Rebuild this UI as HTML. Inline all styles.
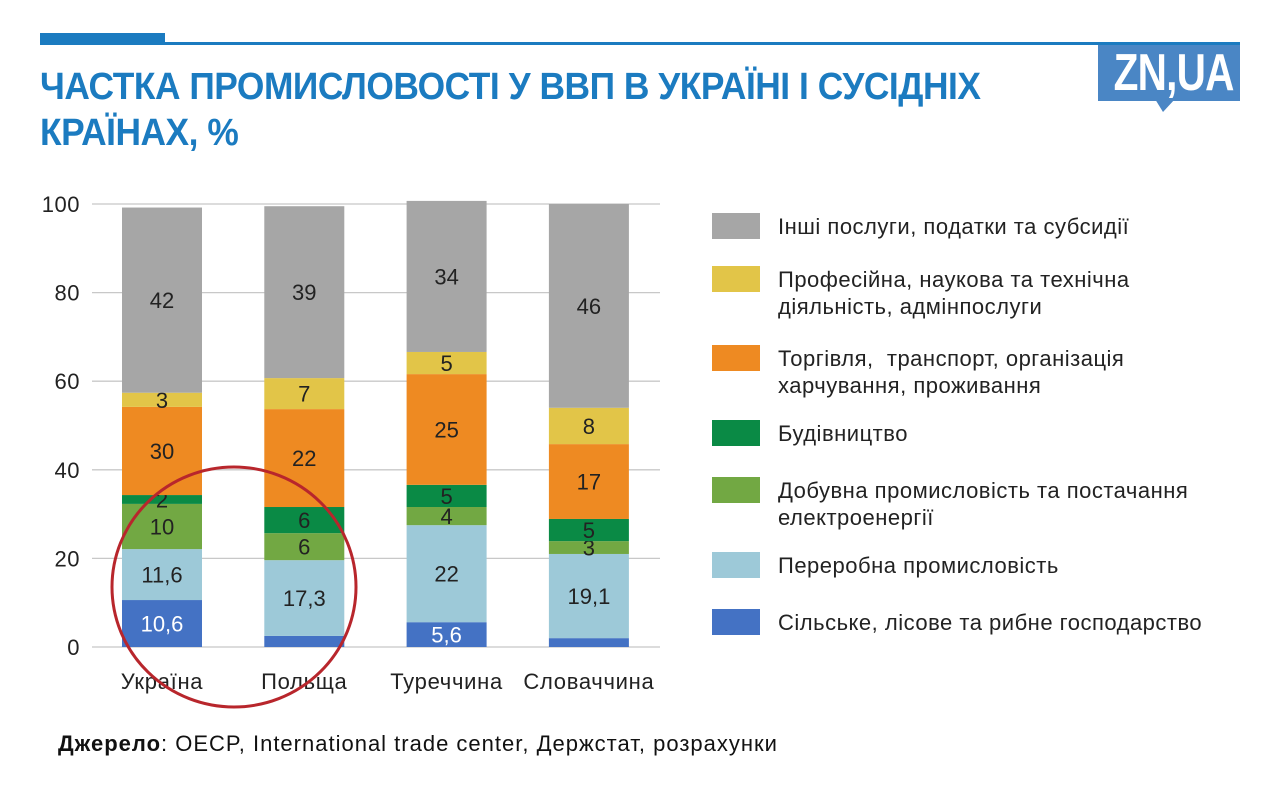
<!DOCTYPE html>
<html><head><meta charset="utf-8"><style>
body{margin:0;width:1280px;height:794px;background:#fff;font-family:"Liberation Sans",sans-serif;position:relative;overflow:hidden}
.abs{position:absolute}
#title{left:40px;top:64px;font-size:38px;font-weight:bold;color:#1b7bc0;line-height:46px;letter-spacing:-0.5px;transform:scaleX(0.93);transform-origin:left;white-space:nowrap}
.leg{position:absolute;left:712px;font-size:22px;letter-spacing:0.5px;color:#222;line-height:27px}
.sw{position:absolute;left:0;width:48px;height:26px}
.lt{position:absolute;left:66px;white-space:nowrap}
</style></head><body>
<div class="abs" style="left:40px;top:33px;width:125px;height:11px;background:#1b7bc0"></div>
<div class="abs" style="left:40px;top:42px;width:1200px;height:3px;background:#1b7bc0"></div>
<div id="title" class="abs">ЧАСТКА ПРОМИСЛОВОСТІ У ВВП В УКРАЇНІ І СУСІДНІХ<br>КРАЇНАХ, %</div>
<div class="abs" style="left:1098px;top:45px;width:142px;height:56px;background:#4a86c5;overflow:hidden"><div style="color:#fff;font-weight:bold;font-size:52px;line-height:56px;text-align:center;transform:scaleX(0.78);letter-spacing:-1px">ZN,UA</div></div>
<svg class="abs" style="left:1155px;top:99px" width="20" height="14"><polygon points="0,0 20,0 8,13" fill="#4a86c5"/></svg>
<svg id="chart" class="abs" style="left:0;top:0" width="700" height="720"></svg>
<div class="abs" style="left:0;top:0">
<div class="leg" style="top:213px"><div class="sw" style="background:#a6a6a6"></div><div class="lt">Інші послуги, податки та субсидії</div></div>
<div class="leg" style="top:266px"><div class="sw" style="top:0;background:#e2c548"></div><div class="lt">Професійна, наукова та технічна<br>діяльність, адмінпослуги</div></div>
<div class="leg" style="top:345px"><div class="sw" style="top:0;background:#ee8a22"></div><div class="lt">Торгівля,&nbsp; транспорт, організація<br>харчування, проживання</div></div>
<div class="leg" style="top:420px"><div class="sw" style="background:#0a8a45"></div><div class="lt">Будівництво</div></div>
<div class="leg" style="top:477px"><div class="sw" style="top:0;background:#72a843"></div><div class="lt">Добувна промисловість та постачання<br>електроенергії</div></div>
<div class="leg" style="top:552px"><div class="sw" style="background:#9dc9d8"></div><div class="lt">Переробна промисловість</div></div>
<div class="leg" style="top:609px"><div class="sw" style="background:#4472c4"></div><div class="lt">Сільське, лісове та рибне господарство</div></div>
</div>
<div class="abs" style="left:58px;top:731px;font-size:22px;letter-spacing:1px;color:#111"><b>Джерело</b>: OECP, International trade center, Держстат, розрахунки</div>
<script>
const categories=["Україна","Польща","Туреччина","Словаччина"];
const seriesColors=["#4472c4","#9dc9d8","#72a843","#0a8a45","#ee8a22","#e2c548","#a6a6a6"];
const agriculture=[10.6,2.5,5.6,2];
const manufacturing=[11.5,17.1,21.9,19];
const mining=[10.2,6.1,4.1,2.9];
const construction=[2,5.9,5,5];
const trade=[19.9,22.1,25,16.9];
const professional=[3.2,7,5,8.2];
const otherServices=[41.8,38.8,34.1,46];
const agricultureLabels=["10,6","","5,6",""];
const manufacturingLabels=["11,6","17,3","22","19,1"];
const miningLabels=["10","6","4","3"];
const constructionLabels=["2","6","5","5"];
const tradeLabels=["30","22","25","17"];
const professionalLabels=["3","7","5","8"];
const otherLabels=["42","39","34","46"];
const yTicks=[0,20,40,60,80,100];
const series=[agriculture,manufacturing,mining,construction,trade,professional,otherServices];
const labels=[agricultureLabels,manufacturingLabels,miningLabels,constructionLabels,tradeLabels,professionalLabels,otherLabels];
const names=["agriculture","manufacturing","mining","construction","trade","professional","other-services"];
const svg=document.getElementById('chart');const NS="http://www.w3.org/2000/svg";
const y=v=>647-v*4.43;const x=i=>122+i*142.3;const bw=80;
function mk(t,a){const e=document.createElementNS(NS,t);for(const k in a)e.setAttribute(k,a[k]);svg.appendChild(e);return e;}
yTicks.forEach(t=>{const l=mk('line',{x1:92,x2:660,y1:y(t),y2:y(t),stroke:'#c8c8c8','stroke-width':1.3});


const tx=mk('text',{x:80,y:y(t)+8,'text-anchor':'end','font-size':22,'letter-spacing':0.5,fill:'#222','font-family':'Liberation Sans'});tx.textContent=t;

});
categories.forEach((c,i)=>{let acc=0;
series.forEach((s,j)=>{const v=s[i];const r=mk('rect',{x:x(i),y:y(acc+v),width:bw,height:v*4.43,fill:seriesColors[j]});


const lb=labels[j][i];if(lb){const t=mk('text',{x:x(i)+bw/2,y:y(acc+v/2)+8,'text-anchor':'middle','font-size':22,fill:j==0?'#fff':'#222','font-family':'Liberation Sans'});t.textContent=lb;

}
acc+=v;});
const ct=mk('text',{x:x(i)+bw/2,y:689,'text-anchor':'middle','font-size':22,'letter-spacing':0.7,fill:'#222','font-family':'Liberation Sans'});ct.textContent=c;

});
const el=mk('ellipse',{cx:234,cy:587,rx:122,ry:120,fill:'none',stroke:'#b8262c','stroke-width':3});


</script>
</body></html>
